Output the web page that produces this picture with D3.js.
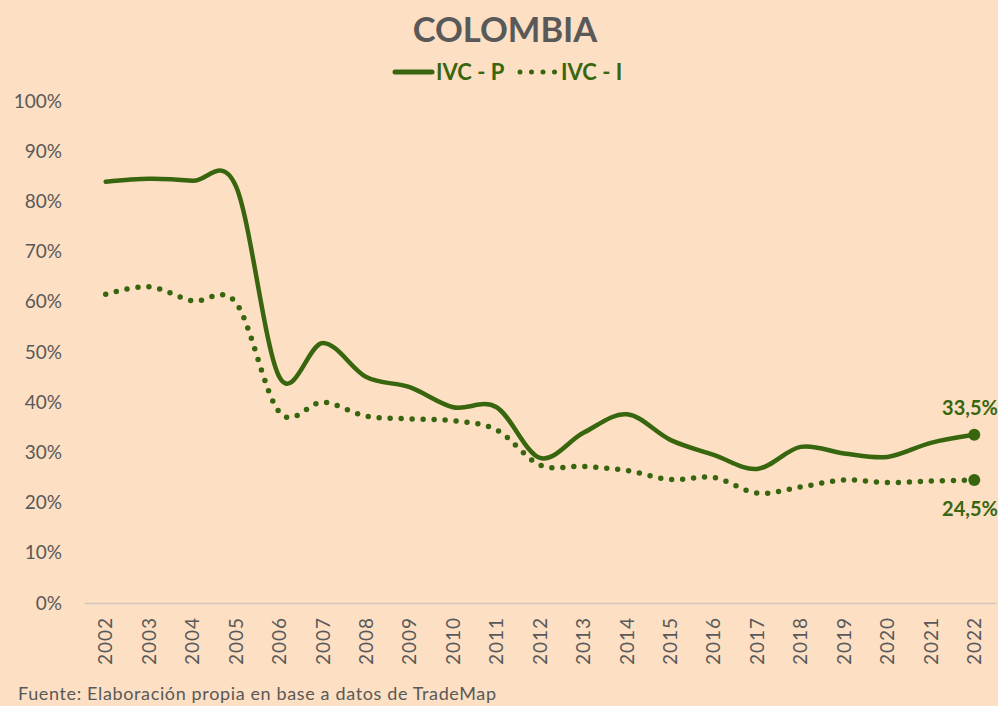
<!DOCTYPE html>
<html><head><meta charset="utf-8">
<script src="https://cdn.jsdelivr.net/npm/d3@7"></script>
<style>
html,body{margin:0;padding:0;background:#FDDFC3;}
svg{display:block;}
</style></head>
<body>
<script>
const years = ["2002","2003","2004","2005","2006","2007","2008","2009","2010","2011","2012","2013","2014","2015","2016","2017","2018","2019","2020","2021","2022"];
const ivcP = [83.9,84.5,84.1,83.0,45.0,51.8,45.0,43.0,39.0,39.0,28.9,33.9,37.6,32.5,29.5,26.7,31.1,29.8,29.1,31.9,33.5];
const ivcI = [61.5,63.0,60.2,59.8,38.0,40.0,37.2,36.7,36.3,34.5,27.5,27.2,26.4,24.6,25.0,21.9,23.1,24.5,24.0,24.3,24.5];
const yTicks = [0,10,20,30,40,50,60,70,80,90,100];
const seriesNames = ["IVC - P","IVC - I"];

const W=998,H=706;
const green="#37660F", gray="#595959";
const svg=d3.select("body").append("svg").attr("width",W).attr("height",H);
svg.append("rect").attr("width",W).attr("height",H).attr("fill","#FDDFC3");

const x=d3.scaleBand().domain(years).range([84,996]);
const y=d3.scaleLinear().domain([0,100]).range([603,101]);
const xc=d=>x(d)+x.bandwidth()/2;

// title
svg.append("text").attr("x",505).attr("y",42).attr("text-anchor","middle")
  .attr("font-family","Lato, 'Open Sans', sans-serif").attr("font-weight","bold")
  .attr("font-size",34.5).attr("fill",gray).text("COLOMBIA");

// legend
const lg=svg.append("g").attr("font-family","Lato, sans-serif").attr("font-weight","bold").attr("font-size",22).attr("fill",green);
lg.append("line").attr("x1",395).attr("x2",432).attr("y1",72).attr("y2",72).attr("stroke",green).attr("stroke-width",5).attr("stroke-linecap","round");
lg.append("text").attr("x",436).attr("y",80).text(seriesNames[0]);
lg.append("line").attr("x1",520).attr("x2",555).attr("y1",72).attr("y2",72).attr("stroke",green).attr("stroke-width",5).attr("stroke-linecap","round").attr("stroke-dasharray","0 11.5");
lg.append("text").attr("x",561).attr("y",80).text(seriesNames[1]);

// y axis
const ya=svg.append("g").attr("transform","translate(84,0)")
  .call(d3.axisLeft(y).tickValues(yTicks).tickSize(0).tickPadding(22).tickFormat(d=>d+"%"));
ya.select(".domain").remove();
ya.selectAll("text").attr("font-family","Lato, sans-serif").attr("font-size",19).attr("fill",gray);

// x axis
const xa=svg.append("g").attr("transform","translate(0,603)")
  .call(d3.axisBottom(x).tickSize(0).tickPadding(0));
xa.select(".domain").attr("stroke","#D0C8C0").attr("stroke-width",1.5);
xa.selectAll("text").attr("font-family","Lato, sans-serif").attr("font-size",19).attr("letter-spacing","1px").attr("fill",gray)
  .attr("transform","rotate(-90)").attr("text-anchor","end").attr("dx","-14").attr("dy","0.35em").attr("y",0).attr("x",0);

// lines
const line=d3.line().x((d,i)=>xc(years[i])).y(d=>y(d)).curve(d3.curveCardinal.tension(0));
svg.append("path").attr("d",line(ivcI)).attr("fill","none").attr("stroke",green).attr("stroke-width",5.5)
  .attr("stroke-linecap","round").attr("stroke-dasharray","0 11");
svg.append("path").attr("d",line(ivcP)).attr("fill","none").attr("stroke",green).attr("stroke-width",4.5)
  .attr("stroke-linecap","round").attr("stroke-linejoin","round");

// end markers + labels
const last=years.length-1;
[[ivcP[last],-20],[ivcI[last],36]].forEach(([v,dy])=>{
  svg.append("circle").attr("cx",xc(years[last])).attr("cy",y(v)).attr("r",6).attr("fill",green);
  svg.append("text").attr("x",970).attr("y",y(v)+dy).attr("text-anchor","middle")
    .attr("font-family","Lato, sans-serif").attr("font-weight","bold").attr("font-size",20).attr("fill",green)
    .text(String(v).replace(".",",")+"%");
});

// source
svg.append("text").attr("x",18).attr("y",700).attr("font-family","Lato, sans-serif").attr("font-size",18).attr("fill",gray)
  .attr("textLength",478).attr("lengthAdjust","spacing")
  .text("Fuente: Elaboración propia en base a datos de TradeMap");
</script>
</body></html>
